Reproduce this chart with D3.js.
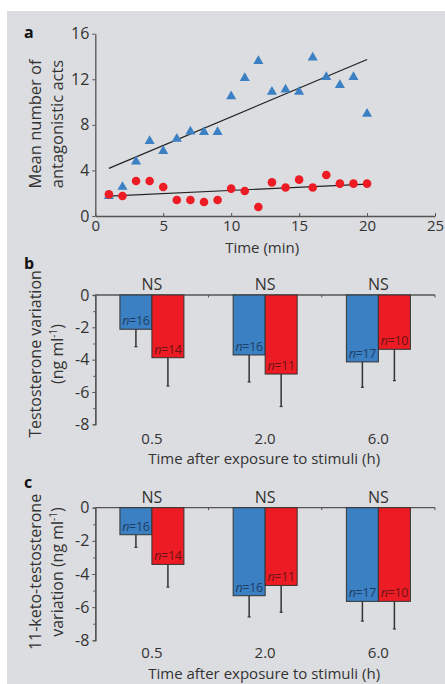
<!DOCTYPE html>
<html>
<head>
<meta charset="utf-8">
<script src="https://cdn.jsdelivr.net/npm/d3@7"></script>
<style>
  body { margin: 0; background: #fff; }
  svg { display: block; font-family: "Open Sans", sans-serif; }
</style>
</head>
<body>
<div id="chart"></div>
<script>
// panel a data: minutes and mean antagonistic acts
var minutes = [1, 2, 3, 4, 5, 6, 7, 8, 9, 10, 11, 12, 13, 14, 15, 16, 17, 18, 19, 20];
var blueActs = [1.75, 2.55, 4.77, 6.58, 5.7, 6.78, 7.4, 7.37, 7.37, 10.5, 12.1, 13.6, 10.9, 11.1, 10.9, 13.9, 12.2, 11.5, 12.2, 8.97];
var redActs = [1.9, 1.75, 3.07, 3.07, 2.54, 1.4, 1.4, 1.23, 1.4, 2.4, 2.2, 0.79, 2.95, 2.5, 3.19, 2.5, 3.6, 2.84, 2.84, 2.84];
var blueTrend = [[1, 4.18], [20, 13.74]];
var redTrend = [[1, 1.75], [20, 2.8]];
var xTicksA = [0, 5, 10, 15, 20, 25];
var yTicksA = [0, 4, 8, 12, 16];

// panels b and c data
var hours = ["0.5", "2.0", "6.0"];
var testoBlue = [-2.12, -3.71, -4.14];
var testoBlueSE = [1.08, 1.67, 1.57];
var testoRed = [-3.88, -4.89, -3.36];
var testoRedSE = [1.75, 2.01, 1.94];
var ketoBlue = [-1.63, -5.31, -5.65];
var ketoBlueSE = [0.76, 1.28, 1.19];
var ketoRed = [-3.42, -4.69, -5.65];
var ketoRedSE = [1.37, 1.62, 1.67];
var nBlue = [16, 16, 17];
var nRed = [14, 11, 10];
var yTicksBar = [0, -2, -4, -6, -8];
var yMinorBar = [-1, -3, -5, -7];

var blue = "#3b80c3";
var red = "#ed1c24";
var ink = "#333";

var svgWidth = 445;
var svgHeight = 684;

var svg = d3.select("#chart")
    .append("svg")
    .attr("width", svgWidth)
    .attr("height", svgHeight);

// gray panel
svg.append("rect")
    .attr("x", 7).attr("y", 11)
    .attr("width", svgWidth - 7).attr("height", svgHeight - 11)
    .attr("fill", "#dcdde0");

var left = 95.3, right = 435;

// ---------- panel a ----------
var xA = d3.scaleLinear().domain([0, 25]).range([left, right]);
var yA = d3.scaleLinear().domain([0, 16]).range([216, 33.7]);

var gA = svg.append("g");

gA.append("g")
    .attr("transform", "translate(0,216)")
    .call(d3.axisBottom(xA).tickValues(xTicksA).tickSizeInner(-3).tickSizeOuter(0).tickPadding(4))
    .call(styleAxis)
    .call(g => g.selectAll(".tick text").attr("font-size", 15));

gA.append("g")
    .attr("transform", "translate(" + left + ",0)")
    .call(d3.axisLeft(yA).tickValues(yTicksA).tickSizeInner(3).tickSizeOuter(0).tickPadding(3))
    .call(styleAxis);

var line = d3.line().x(d => xA(d[0])).y(d => yA(d[1]));
gA.append("path").attr("d", line(blueTrend)).attr("stroke", "#222").attr("stroke-width", 1.2).attr("fill", "none");
gA.append("path").attr("d", line(redTrend)).attr("stroke", "#222").attr("stroke-width", 1.2).attr("fill", "none");

var tri = d3.symbol().type(d3.symbolTriangle).size(44);
gA.selectAll(".tri")
    .data(minutes)
    .enter().append("path")
    .attr("d", tri)
    .attr("transform", (d, i) => "translate(" + xA(d) + "," + yA(blueActs[i]) + ")")
    .attr("fill", blue);

gA.selectAll(".dot")
    .data(minutes)
    .enter().append("circle")
    .attr("cx", d => xA(d))
    .attr("cy", (d, i) => yA(redActs[i]))
    .attr("r", 4.3)
    .attr("fill", red);

gA.append("text").attr("x", xA(12.5) - 3).attr("y", 253).attr("text-anchor", "middle")
    .attr("font-size", 15).attr("fill", ink).text("Time (min)");
yTitle(gA, ["Mean number of", "antagonistic acts"], 124, 16.5);
panelLetter("a", 33);

// ---------- panels b and c ----------
barPanel({top: 295, bottom: 424.3, blueV: testoBlue, blueSE: testoBlueSE, redV: testoRed, redSE: testoRedSE,
    title: ["Testosterone variation", "(ng ml<sup>-1</sup>)"], titleY: 354, letter: "b", letterY: 264,
    tickY: 444, xTitleY: 464});
barPanel({top: 507.7, bottom: 640.3, blueV: ketoBlue, blueSE: ketoBlueSE, redV: ketoRed, redSE: ketoRedSE,
    title: ["11-keto-testosterone", "variation (ng ml<sup>-1</sup>)"], titleY: 572, letter: "c", letterY: 483,
    tickY: 658, xTitleY: 679});

function barPanel(o) {
    var g = svg.append("g");
    var x = d3.scaleBand().domain(hours).range([left, right]);
    var y = d3.scaleLinear().domain([-8, 0]).range([o.bottom, o.top]);
    var bw = 32;

    // y axis with minor ticks
    g.append("g")
        .attr("transform", "translate(" + left + ",0)")
        .call(d3.axisLeft(y).tickValues(yMinorBar).tickSize(2).tickFormat(""))
        .call(styleAxis);
    g.append("g")
        .attr("transform", "translate(" + left + ",0)")
        .call(d3.axisLeft(y).tickValues(yTicksBar).tickSizeInner(3).tickSizeOuter(0).tickPadding(3)
            .tickFormat(d => d === 0 ? "0" : "-" + Math.abs(d)))
        .call(styleAxis);

    // zero line with ticks at band boundaries
    var zero = g.append("g").attr("transform", "translate(0," + y(0) + ")");
    zero.append("line").attr("x1", left).attr("x2", right).attr("stroke", "#555").attr("stroke-width", 1.3);
    [1, 2, 3].forEach(function(k) {
        var bx = left + k * x.step();
        zero.append("line").attr("x1", bx).attr("x2", bx).attr("y1", 0).attr("y2", 2.5)
            .attr("stroke", "#555").attr("stroke-width", 1);
    });

    hours.forEach(function(h, i) {
        var c = x(h) + x.bandwidth() / 2;
        var sets = [
            {v: o.blueV[i], se: o.blueSE[i], x0: c - bw, fill: blue, n: nBlue[i], tc: "#1d3d63"},
            {v: o.redV[i], se: o.redSE[i], x0: c, fill: red, n: nRed[i], tc: "#6a1216"}
        ];
        sets.forEach(function(s) {
            g.append("line")
                .attr("x1", s.x0 + bw / 2).attr("x2", s.x0 + bw / 2)
                .attr("y1", y(s.v)).attr("y2", y(s.v - s.se))
                .attr("stroke", ink).attr("stroke-width", 1.5);
            g.append("line")
                .attr("x1", s.x0 + bw / 2 - 1.5).attr("x2", s.x0 + bw / 2 + 1.5)
                .attr("y1", y(s.v - s.se)).attr("y2", y(s.v - s.se))
                .attr("stroke", ink).attr("stroke-width", 1.2);
        });
        sets.forEach(function(s) {
            g.append("rect")
                .attr("x", s.x0).attr("y", y(0))
                .attr("width", bw).attr("height", y(s.v) - y(0))
                .attr("fill", s.fill).attr("stroke", ink).attr("stroke-width", 1);
            var t = g.append("text")
                .attr("x", s.x0 + bw / 2).attr("y", y(s.v) - 4)
                .attr("text-anchor", "middle").attr("font-size", 12.5).attr("fill", s.tc)
                .attr("letter-spacing", -0.3);
            t.append("tspan").attr("font-style", "italic").text("n");
            t.append("tspan").text("=" + s.n);
        });
        g.append("text").attr("x", c).attr("y", o.top - 5).attr("text-anchor", "middle")
            .attr("font-size", 16).attr("fill", ink).text("NS");
        g.append("text").attr("x", c).attr("y", o.tickY).attr("text-anchor", "middle")
            .attr("font-size", 15).attr("fill", ink).text(h);
    });

    g.append("text").attr("x", (left + right) / 2 - 1).attr("y", o.xTitleY).attr("text-anchor", "middle")
        .attr("font-size", 15).attr("fill", ink).text("Time after exposure to stimuli (h)");
    yTitle(g, o.title, o.titleY, 16);
    panelLetter(o.letter, o.letterY);
}

function yTitle(g, lines, cy, fs) {
    lines.forEach(function(l, i) {
        var t = g.append("text")
            .attr("transform", "translate(" + (40.5 + i * 22) + "," + cy + ") rotate(-90)")
            .attr("text-anchor", "middle").attr("font-size", fs).attr("fill", ink);
        var m = l.split("<sup>");
        t.append("tspan").text(m[0]);
        if (m.length > 1) {
            var rest = m[1].split("</sup>");
            t.append("tspan").attr("font-size", 10).attr("dy", -6).text(rest[0]);
            t.append("tspan").attr("dy", 6).text(rest[1]);
        }
    });
}

function panelLetter(s, yy) {
    svg.append("text").attr("x", 24).attr("y", yy + 5).attr("font-size", 16)
        .attr("font-weight", "bold").attr("fill", "#111").text(s);
}

function styleAxis(sel) {
    sel.select(".domain").attr("stroke", "#555").attr("stroke-width", 1.3);
    sel.selectAll(".tick line").attr("stroke", "#555");
    sel.selectAll(".tick text").attr("font-size", 16).attr("fill", ink).attr("font-family", "Open Sans, sans-serif");
}
</script>
</body>
</html>
